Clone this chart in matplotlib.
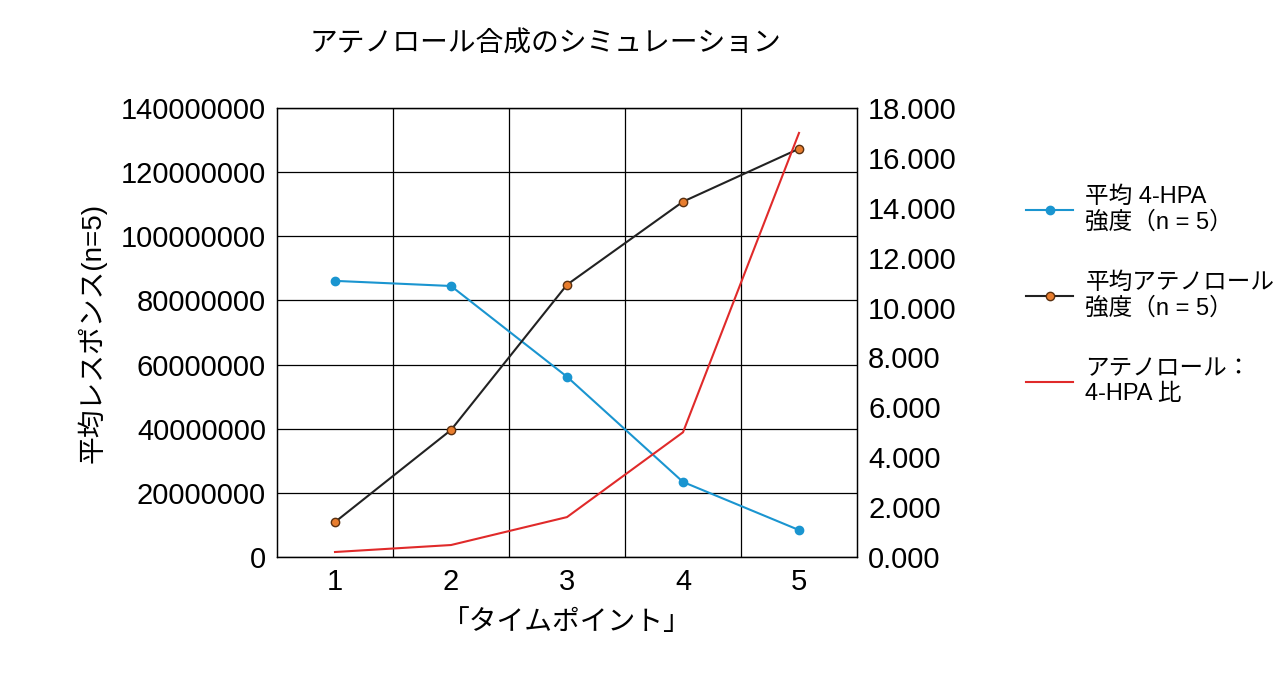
import matplotlib
matplotlib.use("Agg")
import matplotlib.pyplot as plt
from matplotlib.ticker import FuncFormatter
plt.rcParams['font.family'] = ['Liberation Sans', 'Noto Sans CJK JP']

timepoints = [1, 2, 3, 4, 5]
hpa = [86.1e6, 84.5e6, 56.2e6, 23.4e6, 8.4e6]
atenolol = [10.9e6, 39.6e6, 84.9e6, 110.8e6, 127.3e6]
ratio = [0.2, 0.48, 1.6, 5.0, 17.0]

fig = plt.figure(figsize=(12.8, 6.83), dpi=100)
ax = fig.add_axes([277/1280, 1-557/683, 580/1280, 449/683])
ax2 = ax.twinx()
ax.set_xlim(0.5, 5.5)
ax.set_ylim(0, 140e6)
ax2.set_ylim(0, 18)
ax.set_yticks(range(0, 140000001, 20000000))
ax.yaxis.set_major_formatter(FuncFormatter(lambda v, p: f"{int(v)}"))
ax2.set_yticks(range(0, 19, 2))
ax2.yaxis.set_major_formatter(FuncFormatter(lambda v, p: f"{v:.3f}"))
ax.set_xticks(timepoints)
for x in [1.5, 2.5, 3.5, 4.5]:
    ax.axvline(x, color='black', lw=0.9, zorder=0)
ax.grid(axis='y', color='black', lw=0.9)
for a in (ax, ax2):
    a.tick_params(length=0, labelsize=21, pad=8)
    for s in a.spines.values():
        s.set_color('black'); s.set_linewidth(0.9)

l1, = ax.plot(timepoints, hpa, color='#1a95d0', lw=1.5, marker='o', ms=6, mfc='#1a95d0', mec='#1a95d0', label='平均 4-HPA\n強度（n = 5）')
l2, = ax.plot(timepoints, atenolol, color='#222222', lw=1.5, marker='o', ms=6, mfc='#e87d2e', mec='#5a3010', label='平均アテノロール\n強度（n = 5）')
l3, = ax2.plot(timepoints, ratio, color='#e02a2a', lw=1.5, label='アテノロール：\n4-HPA 比')

ax.set_ylabel('平均レスポンス(n=5)', fontsize=20, labelpad=10)
ax.set_xlabel('「タイムポイント」', fontsize=20, labelpad=10)
fig.text(545/1280, 1-45/683, 'アテノロール合成のシミュレーション', fontsize=20, ha='center', va='center')
fig.legend(handles=[l1, l2, l3], loc='upper left', bbox_to_anchor=(1005/1280, 1-165/683),
           frameon=False, fontsize=17, labelspacing=1.6, handlelength=2.0, handletextpad=0.5)
fig.savefig('out.png', dpi=100)
